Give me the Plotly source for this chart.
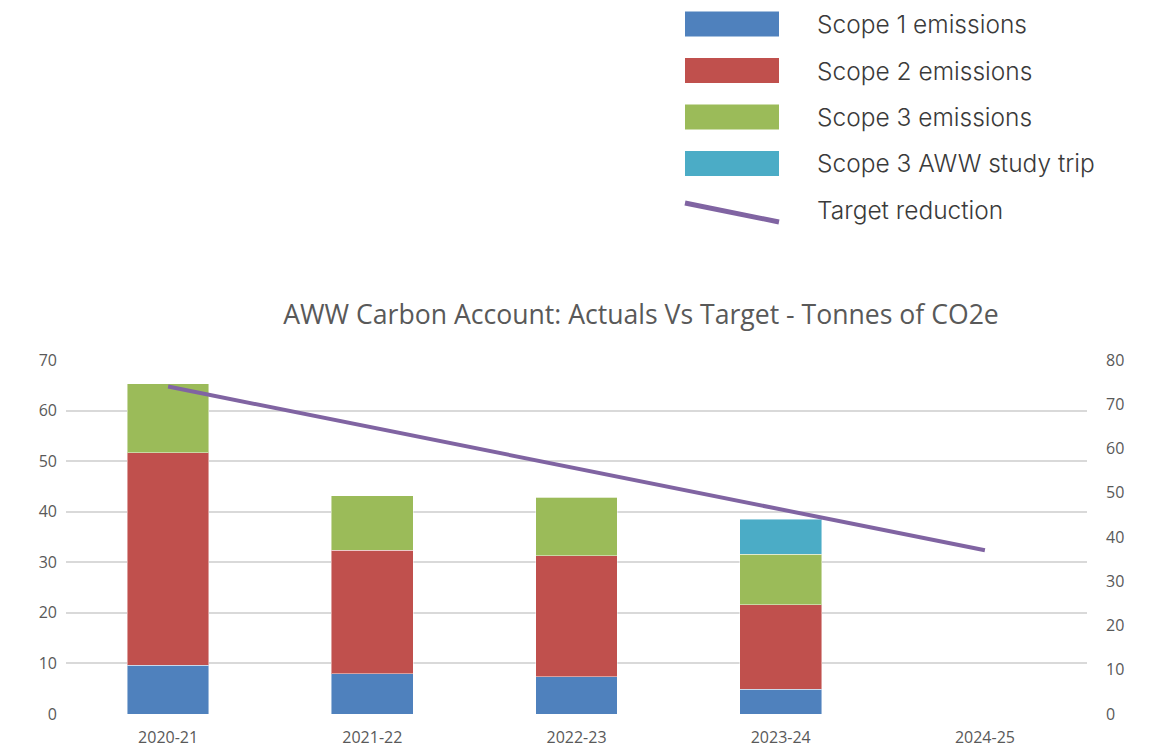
import plotly.graph_objects as go

years = ["2020-21", "2021-22", "2022-23", "2023-24", "2024-25"]
scope1 = [9.6, 8.0, 7.4, 4.9, None]
scope2 = [42.1, 24.4, 23.9, 16.7, None]
scope3 = [13.6, 10.8, 11.6, 10.0, None]
scope3_trip = [0, 0, 0, 6.9, None]
target = [74.0, 64.8, 55.5, 46.3, 37.0]

bar_names = ["Scope 1 emissions", "Scope 2 emissions", "Scope 3 emissions", "Scope 3 AWW study trip"]
bar_colors = ["#4F81BD", "#C0504D", "#9BBB59", "#4BACC6"]
line_name = "Target reduction"
line_color = "#8064A2"

fig = go.Figure()
for name, vals, col in zip(bar_names, [scope1, scope2, scope3, scope3_trip], bar_colors):
    fig.add_trace(go.Bar(
        x=years, y=vals, name=name, marker_color=col,
        marker_line=dict(color="rgba(255,255,255,0.45)", width=1),
        showlegend=False, yaxis="y",
    ))
fig.add_trace(go.Scatter(
    x=years, y=target, name=line_name, mode="lines",
    line=dict(color=line_color, width=4), showlegend=False, yaxis="y2",
))

# Page offset (default body margin of the html page)
OFF = 8
VW, VH = 1155, 749
W, H = VW - OFF, VH - OFF
plot_top, plot_bot = 360, 714   # in window pixels
l_px, r_px = 66, 1087
ph = plot_bot - plot_top
pw = r_px - l_px

def py(pix):
    return (plot_bot - pix) / ph

def px(pix):
    return (pix - l_px) / pw

legend_font = dict(family="Inter, Lato, sans-serif", size=24.5, color="#3a3a3a", weight=300)
shapes = []
annotations = []
row_h = 46.5
top = 24
for i, (name, col) in enumerate(zip(bar_names, bar_colors)):
    cy = top + i * row_h
    shapes.append(dict(type="rect", xref="paper", yref="paper",
                       x0=px(685), x1=px(779), y0=py(cy + 12.5), y1=py(cy - 12.5),
                       fillcolor=col, line=dict(width=0)))
    annotations.append(dict(xref="paper", yref="paper", x=px(815), y=py(cy),
                            xanchor="left", yanchor="middle", text=name, showarrow=False,
                            font=legend_font))
cy = top + 4 * row_h
shapes.append(dict(type="line", xref="paper", yref="paper",
                   x0=px(685), y0=py(cy - 7), x1=px(779), y1=py(cy + 12),
                   line=dict(color=line_color, width=5)))
annotations.append(dict(xref="paper", yref="paper", x=px(815), y=py(cy),
                        xanchor="left", yanchor="middle", text=line_name, showarrow=False,
                        font=legend_font))

tick_font = dict(family="Open Sans, sans-serif", size=16, color="#595959")
fig.update_layout(
    width=W, height=H,
    barmode="stack", bargap=0.6,
    plot_bgcolor="white", paper_bgcolor="white",
    margin=dict(l=l_px - OFF, r=VW - r_px, t=plot_top - OFF, b=VH - plot_bot, autoexpand=False),
    title=dict(text="AWW Carbon Account: Actuals Vs Target - Tonnes of CO2e",
               x=(641 - OFF) / W, xanchor="center", y=1 - (315 - OFF) / H, yanchor="middle",
               xref="container", yref="container",
               font=dict(family="Open Sans, sans-serif", size=26.6, color="#595959")),
    xaxis=dict(showgrid=False, showline=False, ticks="", ticklabelstandoff=12,
               tickfont=tick_font),
    yaxis=dict(range=[0, 70], dtick=10, showgrid=True, gridcolor="#d9d9d9", gridwidth=1.5,
               zeroline=False, showline=False, ticks="", ticklabelstandoff=8,
               tickfont=tick_font),
    yaxis2=dict(range=[0, 80], dtick=10, overlaying="y", side="right", showgrid=False,
                zeroline=False, showline=False, ticks="", ticklabelstandoff=18,
                tickfont=tick_font),
    shapes=shapes, annotations=annotations,
)
fig.write_html("out.html")
